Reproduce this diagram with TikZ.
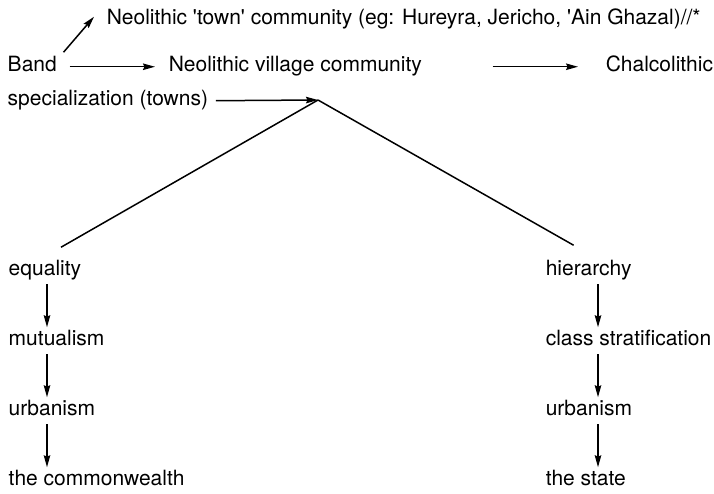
\documentclass[tikz,border=0pt]{standalone}
\usepackage{fontspec}
\setmainfont{TeX Gyre Heros}
\usetikzlibrary{arrows.meta}
\begin{document}
\begin{tikzpicture}[x=1pt,y=-1pt,line width=1.5pt,
  lbl/.style={anchor=base west,inner xsep=0pt,inner ysep=2pt,text height=15pt,text depth=4.5pt,font=\fontsize{21}{25}\selectfont},
  arr/.style={-{Stealth[length=12pt,width=6.5pt,inset=1.5pt]}}]
  \useasboundingbox (0,0) rectangle (714,494);
  % top rows
  \node[lbl] (town) at (106,25) {Neolithic \textquotesingle town\textquotesingle{} community (eg: Hureyra, Jericho, \textquotesingle Ain Ghazal)//*};
  \node[lbl] (band) at (7,72) {Band};
  \node[lbl] (vil) at (168,72) {Neolithic village community};
  \node[lbl] (chal) at (605,72) {Chalcolithic};
  \node[lbl] (spec) at (7,106) {specialization (towns)};
  \draw[arr,shorten <=12pt,shorten >=13pt] (band.east) -- (vil.west);
  \draw[arr,shorten <=70pt,shorten >=27pt] (vil.east) -- (chal.west);
  \draw[arr] ([xshift=6pt,yshift=2pt]band.north east) -- ([xshift=-12pt,yshift=3pt]town.west);
  % the fork
  \coordinate (apex) at (318,100);
  \draw[arr,shorten <=7pt] (spec.east) -- (apex);
  % two columns
  \node[lbl] (eq) at (8,275) {equality};
  \node[lbl] (mu) at (8,345) {mutualism};
  \node[lbl] (urbl) at (8,415) {urbanism};
  \node[lbl] (cw) at (8,485) {the commonwealth};
  \node[lbl] (hi) at (545,275) {hierarchy};
  \node[lbl] (cls) at (545,345) {class stratification};
  \node[lbl] (urbr) at (545,415) {urbanism};
  \node[lbl] (st) at (545,485) {the state};
  \draw (apex) -- ([xshift=16pt,yshift=10pt]eq.north);
  \draw (apex) -- ([xshift=-15pt,yshift=12pt]hi.north);
  \coordinate (lc) at (47,0);
  \coordinate (rc) at (598,0);
  \foreach \a/\b/\c in {eq/mu/lc,mu/urbl/lc,urbl/cw/lc,hi/cls/rc,cls/urbr/rc,urbr/st/rc}
    \draw[arr,shorten <=2pt] (\a.south -| \c) -- (\b.north -| \c);
\end{tikzpicture}
\end{document}
